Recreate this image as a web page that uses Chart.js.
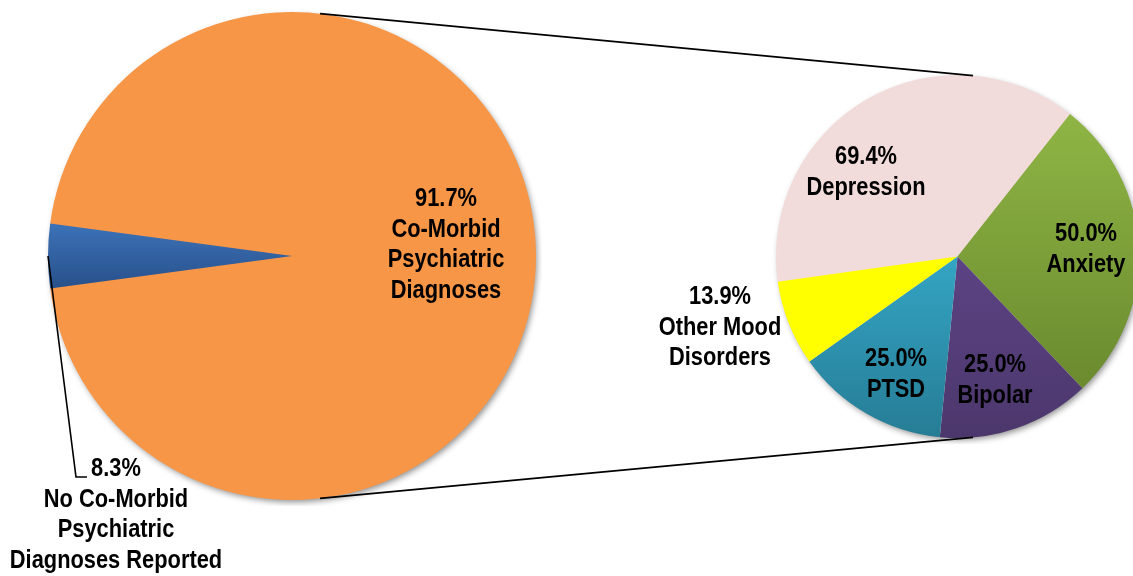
<!DOCTYPE html>
<html>
<head>
<meta charset="utf-8">
<script src="https://cdn.jsdelivr.net/npm/chart.js@4.4.1/dist/chart.umd.min.js"></script>
<style>
  html, body { margin: 0; padding: 0; background: #fff; overflow: hidden; width: 1133px; height: 576px; }
  body { position: relative; }
  #leftBox { position: absolute; left: 42px; top: 6px; width: 500px; height: 500px; }
  #rightBox { position: absolute; left: 770px; top: 69px; width: 375px; height: 375px; }
  #overlay { position: absolute; left: 0; top: 0; pointer-events: none; }
</style>
</head>
<body>
<div id="leftBox"><canvas id="leftPie"></canvas></div>
<div id="rightBox"><canvas id="rightPie"></canvas></div>
<canvas id="overlay" width="1133" height="576"></canvas>
<script>
// left pie: slice sizes as drawn, printed percentages as text
const leftLabels = [
  ["Co-Morbid", "Psychiatric", "Diagnoses"],
  ["No Co-Morbid", "Psychiatric", "Diagnoses Reported"]
];
const leftShares = [95.75, 4.25];
const leftPercents = ["91.7%", "8.3%"];

// right pie: breakdown of co-morbid diagnoses
const rightLabels = [
  ["Depression"],
  ["Anxiety"],
  ["Bipolar"],
  ["PTSD"],
  ["Other Mood", "Disorders"]
];
const rightValues = [69.4, 50.0, 25.0, 25.0, 13.9];

// colours: [top, bottom] of a vertical gradient
const leftColors = [["#F79646", "#F79646"], ["#3C72B8", "#28508A"]];
const rightColors = [
  ["#F2DCDB", "#F2DCDB"],
  ["#8FB545", "#6A8A2E"],
  ["#5C4384", "#4C376C"],
  ["#34A5C4", "#267C95"],
  ["#FFFF00", "#FFFF00"]
];

// text placement (first line centre) and connector geometry
const leftTextPos = [{ x: 446, y: 199 }, { x: 116, y: 469 }];
const rightTextPos = [
  { x: 866, y: 157 },
  { x: 1086, y: 234 },
  { x: 995, y: 365 },
  { x: 896, y: 359 },
  { x: 720, y: 297 }
];
const lineGap = 30.5;
const connectorDeg = { left: 6.6, right: 4.9 };
const leaderElbow = { x: 76, y: 477 };
const leaderEndX = 87;

function sectorYRange(arc) {
  const p = arc.getProps(["x", "y", "startAngle", "endAngle", "outerRadius"], true);
  const ys = [p.y, p.y + p.outerRadius * Math.sin(p.startAngle), p.y + p.outerRadius * Math.sin(p.endAngle)];
  for (let n = -3; n <= 3; n++) {
    [Math.PI / 2, -Math.PI / 2].forEach(base => {
      const a = base + n * 2 * Math.PI;
      if (a >= p.startAngle && a <= p.endAngle) ys.push(p.y + p.outerRadius * Math.sin(a));
    });
  }
  return [Math.min(...ys), Math.max(...ys)];
}

const shadedPie = {
  id: "shadedPie",
  beforeDatasetsDraw(chart, args, opts) {
    const ctx = chart.ctx;
    const meta = chart.getDatasetMeta(0);
    const a0 = meta.data[0];
    // soft drop shadow under the whole pie
    ctx.save();
    ctx.shadowColor = "rgba(0,0,0,0.45)";
    ctx.shadowBlur = 6;
    ctx.shadowOffsetX = 2;
    ctx.shadowOffsetY = 3;
    ctx.fillStyle = opts.colors[0][0];
    ctx.beginPath();
    ctx.arc(a0.x, a0.y, a0.outerRadius - 1, 0, Math.PI * 2);
    ctx.fill();
    ctx.restore();
    meta.data.forEach((arc, i) => {
      const c = opts.colors[i];
      const [y0, y1] = sectorYRange(arc);
      const g = ctx.createLinearGradient(0, y0, 0, y1 + 1);
      g.addColorStop(0, c[0]);
      g.addColorStop(1, c[1]);
      arc.options.backgroundColor = g;
    });
  }
};

function pieConfig(values, colors, rotation) {
  return {
    type: "pie",
    data: {
      labels: values.map((v, i) => "s" + i),
      datasets: [{
        data: values,
        backgroundColor: colors.map(c => c[0]),
        borderWidth: 0,
        hoverOffset: 0,
        offset: 0
      }]
    },
    options: {
      responsive: true,
      maintainAspectRatio: false,
      animation: false,
      events: [],
      rotation: rotation,
      layout: { padding: 6 },
      plugins: {
        legend: { display: false },
        tooltip: { enabled: false },
        shadedPie: { colors: colors }
      }
    },
    plugins: [shadedPie]
  };
}

const leftChart = new Chart(document.getElementById("leftPie"),
  pieConfig(leftShares, leftColors, 270 + leftShares[1] / 100 * 180));
const rightChart = new Chart(document.getElementById("rightPie"),
  pieConfig(rightValues, rightColors, 262));

function pieGeom(chart) {
  const arc = chart.getDatasetMeta(0).data[0];
  const box = chart.canvas.getBoundingClientRect();
  return { x: box.left + arc.x, y: box.top + arc.y, r: arc.outerRadius };
}

function onCircle(g, deg) {
  const a = deg * Math.PI / 180;
  return { x: g.x + g.r * Math.sin(a), y: g.y - g.r * Math.cos(a) };
}

function drawBlock(ctx, lines, pos) {
  lines.forEach((t, i) => {
    ctx.save();
    ctx.translate(pos.x, pos.y + i * lineGap);
    ctx.scale(0.84, 1);
    ctx.fillText(t, 0, 0);
    ctx.restore();
  });
}

function drawOverlay() {
  const ctx = document.getElementById("overlay").getContext("2d");
  const L = pieGeom(leftChart), R = pieGeom(rightChart);

  ctx.strokeStyle = "#000";
  ctx.lineWidth = 1.6;
  // connector lines between the two pies
  [connectorDeg, { left: 180 - connectorDeg.left, right: 180 - connectorDeg.right }].forEach(d => {
    const p0 = onCircle(L, d.left), p1 = onCircle(R, d.right);
    ctx.beginPath();
    ctx.moveTo(p0.x, p0.y);
    ctx.lineTo(p1.x, p1.y);
    ctx.stroke();
  });

  // leader from the small slice to its label
  const blue = leftChart.getDatasetMeta(0).data[1];
  const mid = (blue.startAngle + blue.endAngle) / 2;
  const box = leftChart.canvas.getBoundingClientRect();
  ctx.beginPath();
  ctx.moveTo(box.left + blue.x + blue.outerRadius * Math.cos(mid), box.top + blue.y + blue.outerRadius * Math.sin(mid));
  ctx.lineTo(leaderElbow.x, leaderElbow.y);
  ctx.lineTo(leaderEndX, leaderElbow.y);
  ctx.stroke();

  ctx.fillStyle = "#000";
  ctx.font = 'bold 26px "Liberation Sans", Arial, sans-serif';
  ctx.textAlign = "center";
  ctx.textBaseline = "middle";
  leftLabels.forEach((lines, i) => drawBlock(ctx, [leftPercents[i]].concat(lines), leftTextPos[i]));
  rightLabels.forEach((lines, i) => drawBlock(ctx, [rightValues[i].toFixed(1) + "%"].concat(lines), rightTextPos[i]));
}

drawOverlay();
</script>
</body>
</html>
